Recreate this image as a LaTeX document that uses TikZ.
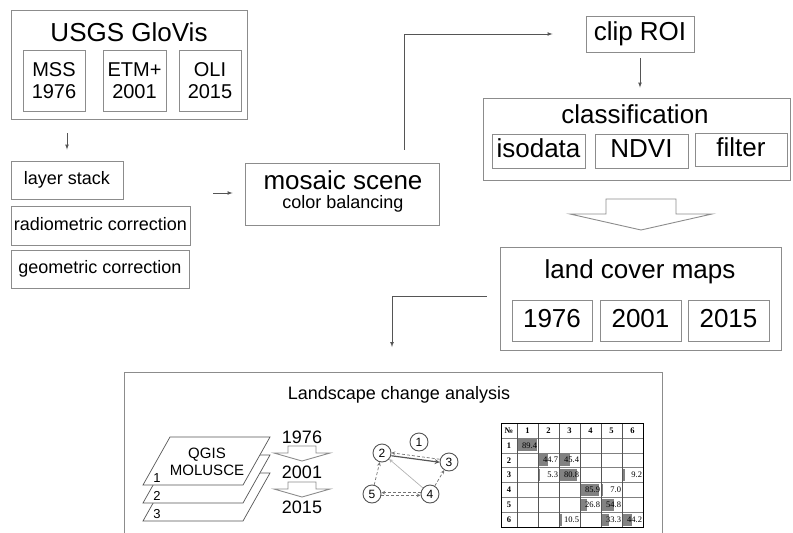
\documentclass[tikz,border=0pt]{standalone}
\usepackage{fontspec}
\setmainfont{Liberation Sans}
\newfontfamily\tablefont{Liberation Serif}
\usepackage{xcolor}
\usepackage{tikz}
\usetikzlibrary{shapes,arrows}

\definecolor{boxgray}{RGB}{140,140,140}
\definecolor{linegray}{RGB}{85,85,85}
\definecolor{cellgray}{RGB}{130,130,130}

\begin{document}
\begin{tikzpicture}[x=1pt, y=-1pt, >=latex]
		% Define the styles
		\tikzstyle{box}=[rectangle, draw=boxgray, line width=0.9pt, inner sep=0pt]
		\tikzstyle{big}=[font=\fontsize{26}{28}\selectfont]
		\tikzstyle{mid}=[font=\fontsize{20}{22}\selectfont, align=center]
		\tikzstyle{small}=[font=\fontsize{18}{20}\selectfont]
		\tikzstyle{levelbig}=[text height=19pt, text depth=5.5pt]
		\tikzstyle{levelsmall}=[text height=13pt, text depth=3.8pt]
		\tikzstyle{flow}=[->, draw=linegray, line width=0.7pt]
		\tikzstyle{hollow}=[draw=boxgray, line width=0.9pt, fill=white, line join=miter]
		\tikzstyle{layer}=[draw=linegray, line width=0.7pt, fill=white]
		\tikzstyle{state}=[circle, draw=linegray, line width=0.9pt, minimum size=18pt, inner sep=0pt, font=\fontsize{12}{12}\selectfont]
		\tikzstyle{gedge}=[->, >=stealth, line width=0.7pt, draw=gray!90!black]
		\tikzstyle{cell}=[font=\tablefont\fontsize{8.5}{9}\selectfont, inner sep=0.8pt]
		\tikzstyle{headcell}=[font=\tablefont\fontsize{8.5}{9}\selectfont\bfseries, inner sep=0.8pt]

		\useasboundingbox (0,0) rectangle (793,533);

		% Define nodes: data sources
		\node (glovis) [box, minimum width=236pt, minimum height=109pt] at (129,64.5) {};
		\node (glovistitle) [big] at (129,32) {USGS GloVis};
		\node (mss) [box, mid, minimum width=62pt, minimum height=61pt] at (54,80.5) {MSS\\1976};
		\node (etm) [box, mid, minimum width=63pt, minimum height=61pt] at (134.5,80.5) {ETM+\\2001};
		\node (oli) [box, mid, minimum width=62pt, minimum height=61pt] at (210,80.5) {OLI\\2015};

		% Define nodes: preprocessing
		\node (stack) [box, small, levelsmall, minimum width=112pt, minimum height=38pt] at (67,180) {layer stack};
		\node (radio) [box, small, levelsmall, minimum width=179pt, minimum height=39pt] at (100.5,225.5) {radiometric correction};
		\node (geo) [box, small, levelsmall, minimum width=178pt, minimum height=38pt] at (100,269) {geometric correction};
		\coordinate (prep) at (213,193);

		% Define nodes: mosaic, clip, classification
		\node (mosaic) [box, minimum width=194pt, minimum height=62pt] at (342,194) {};
		\node (mosaictitle) [big] at (343,180) {mosaic scene};
		\node (mosaicsub) [small] at (343,204) {color balancing};
		\node (clip) [box, big, levelbig, minimum width=108pt, minimum height=36pt] at (640,34) {clip ROI};
		\node (class) [box, minimum width=307pt, minimum height=82pt] at (636.5,139) {};
		\node (classtitle) [big] at (635,114) {classification};
		\node (isodata) [box, big, levelbig, minimum width=93pt, minimum height=34pt] at (538.5,151) {isodata};
		\node (ndvi) [box, big, levelbig, minimum width=93pt, minimum height=34pt] at (641.5,151) {NDVI};
		\node (filter) [box, big, levelbig, minimum width=92pt, minimum height=33pt] at (741,149.5) {filter};

		% Define nodes: land cover maps
		\node (landcover) [box, minimum width=281pt, minimum height=103pt] at (640.5,298.5) {};
		\node (landcovertitle) [big] at (640,272) {land cover maps};
		\node (lc1976) [box, big, levelbig, minimum width=80pt, minimum height=41pt] at (552,320.5) {1976};
		\node (lc2001) [box, big, levelbig, minimum width=81pt, minimum height=41pt] at (640.5,320.5) {2001};
		\node (lc2015) [box, big, levelbig, minimum width=81pt, minimum height=41pt] at (728.5,320.5) {2015};

		% Define nodes: landscape change analysis
		\node (landscape) [minimum width=537pt, minimum height=161pt] at (393.5,453.5) {};
		\draw[draw=boxgray, line width=0.9pt] (landscape.south west) |- (landscape.north east) -- (landscape.south east);
		\node (landscapetitle) [font=\fontsize{18}{20}\selectfont] at (399,395) {Landscape change analysis};
		\coordinate (lcin) at (392,373);

		% QGIS layers
		\foreach \i/\dy in {3/36,2/18,1/0} {
			\draw[layer] (170,437+\dy) -- (270,437+\dy) -- (243,485+\dy) -- (143,485+\dy) -- cycle;
			\node (layer\i) [font=\fontsize{13}{13}\selectfont] at (157,478+\dy) {\i};
		}
		\node (qgis) [align=center, font=\fontsize{15}{17}\selectfont] at (207,461.5) {QGIS\\MOLUSCE};
		\node (t1976) [small] at (302,437) {1976};
		\node (t2001) [small] at (302,472) {2001};
		\node (t2015) [small] at (302,507) {2015};
		\foreach \y in {446,482}
			\draw[hollow] (288,\y) -- ++(28,0) -- ++(0,7) -- ++(14,0) -- ++(-28,8) -- ++(-28,-8) -- ++(14,0) -- cycle;

		% Transition graph
		\node (s1) [state] at (419,442) {1};
		\node (s2) [state] at (382,453) {2};
		\node (s3) [state] at (449,462) {3};
		\node (s4) [state] at (430,494) {4};
		\node (s5) [state] at (372,494) {5};
		\draw[gedge, draw=linegray, line width=1.2pt, transform canvas={yshift=-1.5pt}] (s2) -- (s3);
		\draw[gedge, densely dashed, transform canvas={yshift=1.5pt}] (s3) -- (s2);
		\draw[gedge, draw=gray!60] (s4) -- (s2);
		\draw[gedge, densely dashed] (s4) -- (s3);
		\draw[gedge, densely dashed] (s5) -- (s2);
		\draw[gedge, densely dashed, transform canvas={yshift=1.3pt}] (s4) -- (s5);
		\draw[gedge, densely dashed, transform canvas={yshift=-1.3pt}] (s5) -- (s4);

		% Transition matrix
		\foreach \r/\c/\v in {1/1/89.4, 2/2/44.7, 2/3/45.4, 3/2/5.3, 3/3/80.8, 3/6/9.2, 4/4/85.9, 4/5/7.0, 5/4/26.8, 5/5/54.8, 6/3/10.5, 6/5/33.3, 6/6/44.2}
			\fill[cellgray] (497+21*\c, 424.5+14.9*\r) rectangle ++(0.21*\v, 12);
		\foreach \r in {0,...,7}
			\draw[gray, line width=0.5pt] (501,423+14.9*\r) -- (643,423+14.9*\r);
		\foreach \x in {517,538,559,580,601,622}
			\draw[linegray, line width=0.6pt] (\x,423) -- (\x,527.3);
		\draw[black, line width=0.9pt] (501,423) rectangle (643,527.3);
		\node (hno) [headcell] at (509,430.45) {№};
		\foreach \c in {1,...,6} {
			\node (h\c) [headcell] at (506.5+21*\c,430.45) {\c};
			\node (r\c) [headcell] at (509,430.45+14.9*\c) {\c};
		}
		\foreach \r/\c/\v in {1/1/89.4, 2/2/44.7, 2/3/45.4, 3/2/5.3, 3/3/80.8, 3/6/9.2, 4/4/85.9, 4/5/7.0, 5/4/26.8, 5/5/54.8, 6/3/10.5, 6/5/33.3, 6/6/44.2}
			\node (v\r\c) [cell, anchor=east] at (517+21*\c,430.45+14.9*\r) {\v};

		% Big hollow arrow
		\draw[hollow] (606,199) -- (676,199) -- (676,214) -- (712,214) -- (641,230) -- (570,214) -- (606,214) -- cycle;

		% Define edges
		\draw[flow, shorten <=14pt, shorten >=11pt] (glovis.south -| stack.north) -- (stack.north);
		\draw[flow, shorten >=12pt] (prep) -- (prep -| mosaic.west);
		\draw[flow, shorten <=13pt, shorten >=33pt] ([xshift=62pt]mosaic.north) |- (clip.west);
		\draw[flow, shorten <=6pt, shorten >=10pt] (clip.south) -- (clip.south |- class.north);
		\draw[flow, shorten <=13pt, shorten >=26pt] ([yshift=2.5pt]landcover.west) -| (lcin);
	\end{tikzpicture}
\end{document}
